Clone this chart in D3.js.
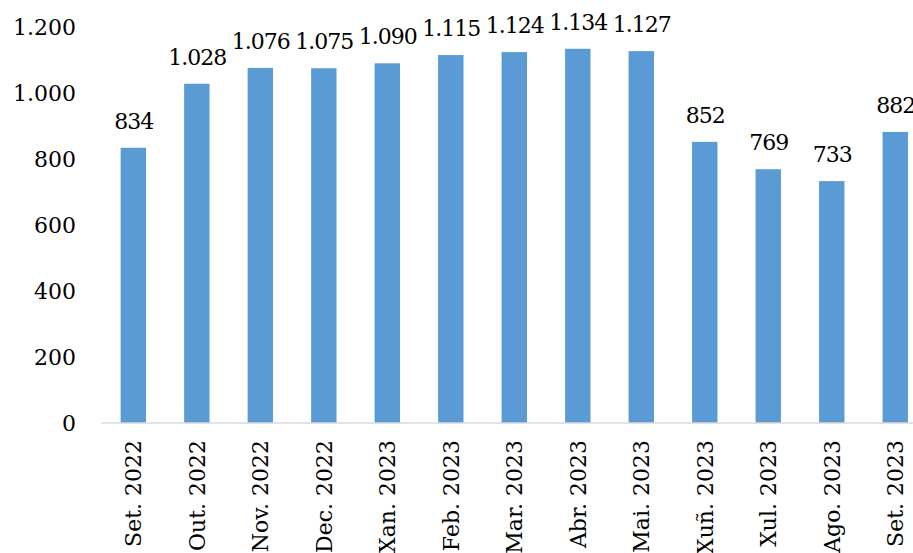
<!DOCTYPE html>
<html>
<head>
<meta charset="utf-8">
<script src="https://cdn.jsdelivr.net/npm/d3@7"></script>
<style>
  body { margin: 0; background: #fff; }
  text { font-family: "DejaVu Serif", serif; fill: #000; }
</style>
</head>
<body>
<svg width="913" height="553"></svg>
<script>
// Data
const months = ["Set. 2022", "Out. 2022", "Nov. 2022", "Dec. 2022", "Xan. 2023", "Feb. 2023",
  "Mar. 2023", "Abr. 2023", "Mai. 2023", "Xuñ. 2023", "Xul. 2023", "Ago. 2023", "Set. 2023"];
const values = [834, 1028, 1076, 1075, 1090, 1115, 1124, 1134, 1127, 852, 769, 733, 882];
const yTicks = [0, 200, 400, 600, 800, 1000, 1200];

const svg = d3.select("svg");

// Galician-style number format: 1.200
const fmt = d3.formatLocale({ decimal: ",", thousands: ".", grouping: [3], currency: ["", "€"] }).format(",d");

// Scales
const x = d3.scaleBand()
  .domain(months)
  .range([101.6, 927])
  .paddingInner(0.6)
  .paddingOuter(0.3);

const y = d3.scaleLinear()
  .domain([0, 1200])
  .range([423, 27]);

// Y labels (no axis line in the original)
svg.append("g")
  .selectAll("text")
  .data(yTicks)
  .join("text")
  .attr("x", 76)
  .attr("y", d => y(d))
  .attr("dy", "0.36em")
  .attr("text-anchor", "end")
  .style("font-size", "22px")
  .text(d => fmt(d));

// Bars
svg.append("g")
  .selectAll("rect")
  .data(values)
  .join("rect")
  .attr("x", (d, i) => x(months[i]))
  .attr("y", d => y(d))
  .attr("width", x.bandwidth())
  .attr("height", d => y(0) - y(d))
  .attr("fill", "#5b9bd5");

// Baseline
svg.append("line")
  .attr("x1", 101.6)
  .attr("x2", 913)
  .attr("y1", y(0))
  .attr("y2", y(0))
  .attr("stroke", "#d9d9d9")
  .attr("stroke-width", 1.5);

// Value labels (a bit tighter so neighbours don't touch)
svg.append("g")
  .selectAll("text")
  .data(values)
  .join("text")
  .attr("x", (d, i) => x(months[i]) + x.bandwidth() / 2 + 0.5)
  .attr("y", d => y(d) - 19)
  .attr("text-anchor", "middle")
  .style("font-size", "22px")
  .style("letter-spacing", "-1px")
  .text(d => fmt(d));

// Month labels, rotated
svg.append("g")
  .selectAll("text")
  .data(months)
  .join("text")
  .attr("transform", d => `translate(${x(d) + x.bandwidth() / 2 + 8},440) rotate(-90)`)
  .attr("text-anchor", "end")
  .style("font-size", "22px")
  .text(d => d);
</script>
</body>
</html>
